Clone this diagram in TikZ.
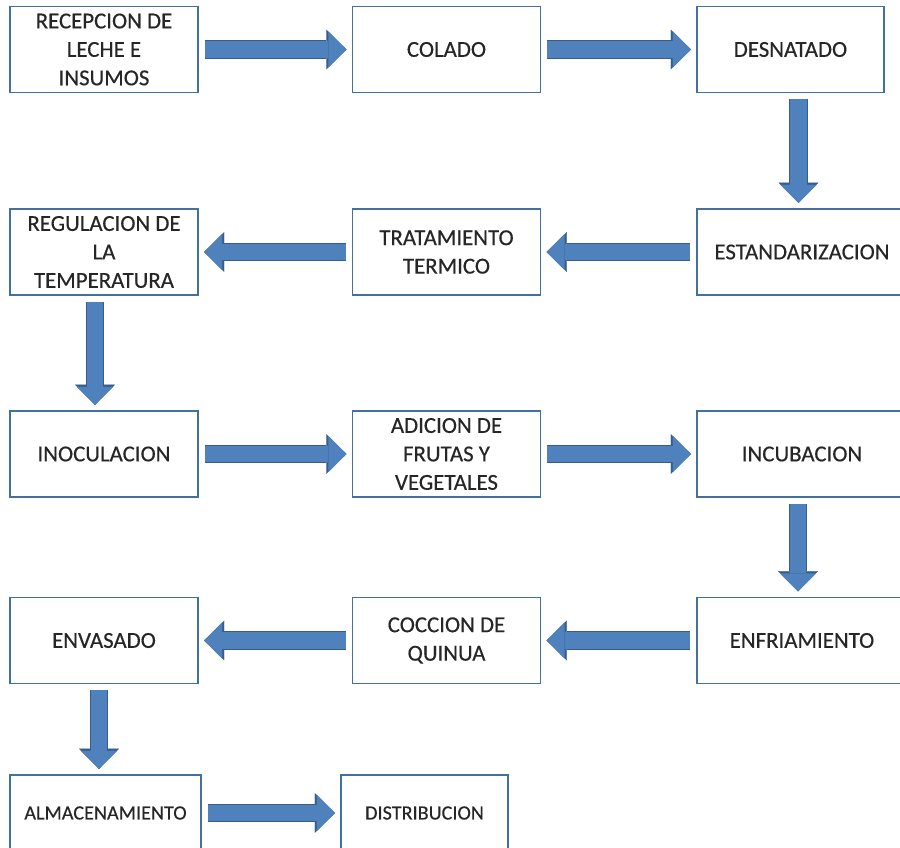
\documentclass[tikz,border=0pt]{standalone}
\usepackage{fontspec}
\setmainfont{Carlito}
\newfontfamily\cajafont{Carlito}[FakeBold=0.4]
\usetikzlibrary{arrows.meta}

\definecolor{cajaborde}{RGB}{65,113,156}
\definecolor{flechaazul}{RGB}{79,129,189}
\definecolor{flechaborde}{RGB}{56,93,138}
\definecolor{textocaja}{RGB}{38,38,38}

\begin{document}
\begin{tikzpicture}[x=0.02cm, y=-0.02cm,
	every node/.style={font=\cajafont\fontsize{13}{16.2}\selectfont, text=textocaja},
	caja/.style={draw=cajaborde, line width=1.1pt, align=center, inner sep=0pt, minimum width=3.76cm, minimum height=1.72cm},
	flecha/.style={draw=flechaazul, line width=9.6pt, -{Triangle[width=20.4pt, length=10.2pt, line width=0.01pt]},
		shorten <=3.4pt, shorten >=3pt,
		preaction={draw=flechaborde, line width=10.8pt, -{Triangle[width=22.6pt, length=11.4pt, line width=0.01pt]}}}]
			\useasboundingbox (0,0) rectangle (900,848);
			
			%% fila 1
			\node[caja] (recepcion) at (104,49.5) {RECEPCION DE\\LECHE E\\INSUMOS};
			\node[caja] (colado) at (446.5,49.5) {COLADO};
			\node[caja, minimum width=3.74cm] (desnatado) at (790.5,49.5) {DESNATADO};
			
			%% fila 2
			\node[caja] (regulacion) at (104,252) {REGULACION DE\\LA\\TEMPERATURA};
			\node[caja] (tratamiento) at (446.5,252) {TRATAMIENTO\\TERMICO};
			\node[caja, minimum width=4.2cm] (estandarizacion) at (802,252) {ESTANDARIZACION};
			
			%% fila 3
			\node[caja] (inoculacion) at (104,454) {INOCULACION};
			\node[caja] (adicion) at (446.5,454) {ADICION DE\\FRUTAS Y\\VEGETALES};
			\node[caja, minimum width=4.2cm] (incubacion) at (802,454) {INCUBACION};
			
			%% fila 4
			\node[caja] (envasado) at (104,640.5) {ENVASADO};
			\node[caja] (coccion) at (446.5,640.5) {COCCION DE\\QUINUA};
			\node[caja, minimum width=4.2cm] (enfriamiento) at (802,640.5) {ENFRIAMIENTO};
			
			%% fila 5 (letra algo menor)
			\node[caja, minimum width=3.82cm, minimum height=1.52cm, font=\cajafont\fontsize{11.5}{14}\selectfont] (almacenamiento) at (105.5,813) {ALMACENAMIENTO};
			\node[caja, minimum width=3.34cm, minimum height=1.52cm, font=\cajafont\fontsize{11.5}{14}\selectfont] (distribucion) at (424.5,813) {DISTRIBUCION};
			
			%% flechas
			\draw[flecha] (recepcion.east) -- (colado.west);
			\draw[flecha] (colado.east) -- (desnatado.west);
			\draw[flecha] ([xshift=0.16cm]desnatado.south) -- ([xshift=0.16cm]desnatado.south |- estandarizacion.north);
			\draw[flecha] (estandarizacion.west) -- (tratamiento.east);
			\draw[flecha] (tratamiento.west) -- (regulacion.east);
			\draw[flecha] ([xshift=-0.18cm]regulacion.south) -- ([xshift=-0.18cm]inoculacion.north);
			\draw[flecha] (inoculacion.east) -- (adicion.west);
			\draw[flecha] (adicion.east) -- (incubacion.west);
			\draw[flecha] ([xshift=-0.08cm]incubacion.south) -- ([xshift=-0.08cm]enfriamiento.north);
			\draw[flecha] (enfriamiento.west) -- (coccion.east);
			\draw[flecha] (coccion.west) -- (envasado.east);
			\draw[flecha] ([xshift=-0.1cm]envasado.south) -- ([xshift=-0.1cm]envasado.south |- almacenamiento.north);
			\draw[flecha] (almacenamiento.east) -- (distribucion.west);
			
		\end{tikzpicture}
\end{document}
